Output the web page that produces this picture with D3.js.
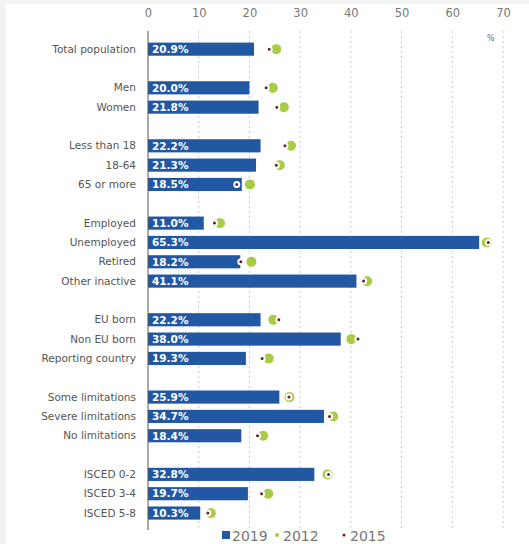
<!DOCTYPE html>
<html>
<head>
<meta charset="utf-8">
<script src="https://cdn.jsdelivr.net/npm/d3@7"></script>
<style>
  body { margin: 0; background: #f1f4f1; }
  svg { display: block; }
</style>
</head>
<body>
<div id="chart"></div>
<script>
// categories top to bottom, "" = gap row between groups
var categories = ["Total population", "",
  "Men", "Women", "",
  "Less than 18", "18-64", "65 or more", "",
  "Employed", "Unemployed", "Retired", "Other inactive", "",
  "EU born", "Non EU born", "Reporting country", "",
  "Some limitations", "Severe limitations", "No limitations", "",
  "ISCED 0-2", "ISCED 3-4", "ISCED 5-8"];

var values2019 = [20.9, null, 20.0, 21.8, null, 22.2, 21.3, 18.5, null,
  11.0, 65.3, 18.2, 41.1, null, 22.2, 38.0, 19.3, null,
  25.9, 34.7, 18.4, null, 32.8, 19.7, 10.3];

var values2012 = [25.3, null, 24.6, 26.8, null, 28.2, 26.0, 20.1, null,
  14.2, 66.8, 20.4, 43.2, null, 24.7, 40.1, 23.8, null,
  27.9, 36.5, 22.7, null, 35.4, 23.7, 12.4];

var values2015 = [23.9, null, 23.3, 25.4, null, 27.0, 25.3, 17.5, null,
  13.1, 67.1, 18.3, 42.5, null, 25.8, 41.4, 22.5, null,
  27.8, 35.8, 21.6, null, 35.6, 22.4, 11.8];

var xTicks = [0, 10, 20, 30, 40, 50, 60, 70];
var legendItems = ["2019", "2012", "2015"];

var W = 529, H = 544;
var blue = "#2257a4", green = "#a9cc45", red = "#6e1f1f";

var svg = d3.select("#chart").append("svg")
  .attr("width", W)
  .attr("height", H);

svg.append("rect")
  .attr("x", 6).attr("y", 4)
  .attr("width", W - 6).attr("height", H - 4)
  .attr("fill", "#ffffff");

var x = d3.scaleLinear().domain([0, 70]).range([148, 503]);
var y = d3.scaleBand().domain(d3.range(categories.length))
  .range([39.5, 522.7]).paddingInner(0.32).paddingOuter(0.16);

// dashed grid
svg.append("g").selectAll("line")
  .data(xTicks.slice(1))
  .enter().append("line")
  .attr("x1", d => x(d)).attr("x2", d => x(d))
  .attr("y1", 31).attr("y2", 530)
  .attr("stroke", "#c8c8c8")
  .attr("stroke-dasharray", "2,3");

// top axis labels
var axis = svg.append("g")
  .attr("transform", "translate(0,21)")
  .call(d3.axisTop(x).tickValues(xTicks).tickSize(0).tickPadding(4));
axis.select(".domain").remove();
axis.selectAll("text")
  .attr("font-family", "DejaVu Sans")
  .attr("font-size", 11.5)
  .attr("fill", "#777");

svg.append("text")
  .attr("x", 487).attr("y", 41)
  .attr("font-family", "DejaVu Sans")
  .attr("font-size", 8)
  .attr("fill", "#666")
  .text("%");

var rows = categories.map(function(c, i) {
  return { name: c, i: i, v19: values2019[i], v12: values2012[i], v15: values2015[i] };
}).filter(d => d.name !== "");

// bars
svg.append("g").selectAll("rect")
  .data(rows)
  .enter().append("rect")
  .attr("x", x(0))
  .attr("y", d => y(d.i))
  .attr("width", d => x(d.v19) - x(0))
  .attr("height", y.bandwidth())
  .attr("fill", blue);

// bar labels
svg.append("g").selectAll("text")
  .data(rows)
  .enter().append("text")
  .attr("x", x(0) + 4)
  .attr("y", d => y(d.i) + y.bandwidth() / 2)
  .attr("dy", "0.36em")
  .attr("font-family", "DejaVu Sans")
  .attr("font-size", 10.5)
  .attr("font-weight", "bold")
  .attr("fill", "#ffffff")
  .text(d => d.v19.toFixed(1) + "%");

// category labels
svg.append("g").selectAll("text")
  .data(rows)
  .enter().append("text")
  .attr("x", 136)
  .attr("y", d => y(d.i) + y.bandwidth() / 2)
  .attr("dy", "0.35em")
  .attr("text-anchor", "end")
  .attr("font-family", "DejaVu Sans")
  .attr("font-size", 10.5)
  .attr("fill", "#555")
  .text(d => d.name);

// 2012 markers
svg.append("g").selectAll("circle")
  .data(rows)
  .enter().append("circle")
  .attr("cx", d => x(d.v12))
  .attr("cy", d => y(d.i) + y.bandwidth() / 2)
  .attr("r", 5.5)
  .attr("fill", green)
  .attr("stroke", "#ffffff")
  .attr("stroke-width", 1);

// 2015 markers
svg.append("g").selectAll("circle")
  .data(rows)
  .enter().append("circle")
  .attr("cx", d => x(d.v15))
  .attr("cy", d => y(d.i) + y.bandwidth() / 2)
  .attr("r", 2.5)
  .attr("fill", red)
  .attr("stroke", "#ffffff")
  .attr("stroke-width", 2);

// axis line at 0
svg.append("line")
  .attr("x1", x(0)).attr("x2", x(0))
  .attr("y1", 31).attr("y2", 530)
  .attr("stroke", "#555")
  .attr("stroke-width", 1);

// legend
var leg = svg.append("g").attr("font-family", "DejaVu Sans").attr("font-size", 14).attr("fill", "#777");
leg.append("rect").attr("x", 222).attr("y", 531).attr("width", 8).attr("height", 8).attr("fill", blue);
leg.append("text").attr("x", 232).attr("y", 541).text(legendItems[0]);
leg.append("circle").attr("cx", 277).attr("cy", 535).attr("r", 2).attr("fill", green);
leg.append("text").attr("x", 283).attr("y", 541).text(legendItems[1]);
leg.append("circle").attr("cx", 344).attr("cy", 535).attr("r", 1.5).attr("fill", red);
leg.append("text").attr("x", 350).attr("y", 541).text(legendItems[2]);
</script>
</body>
</html>
